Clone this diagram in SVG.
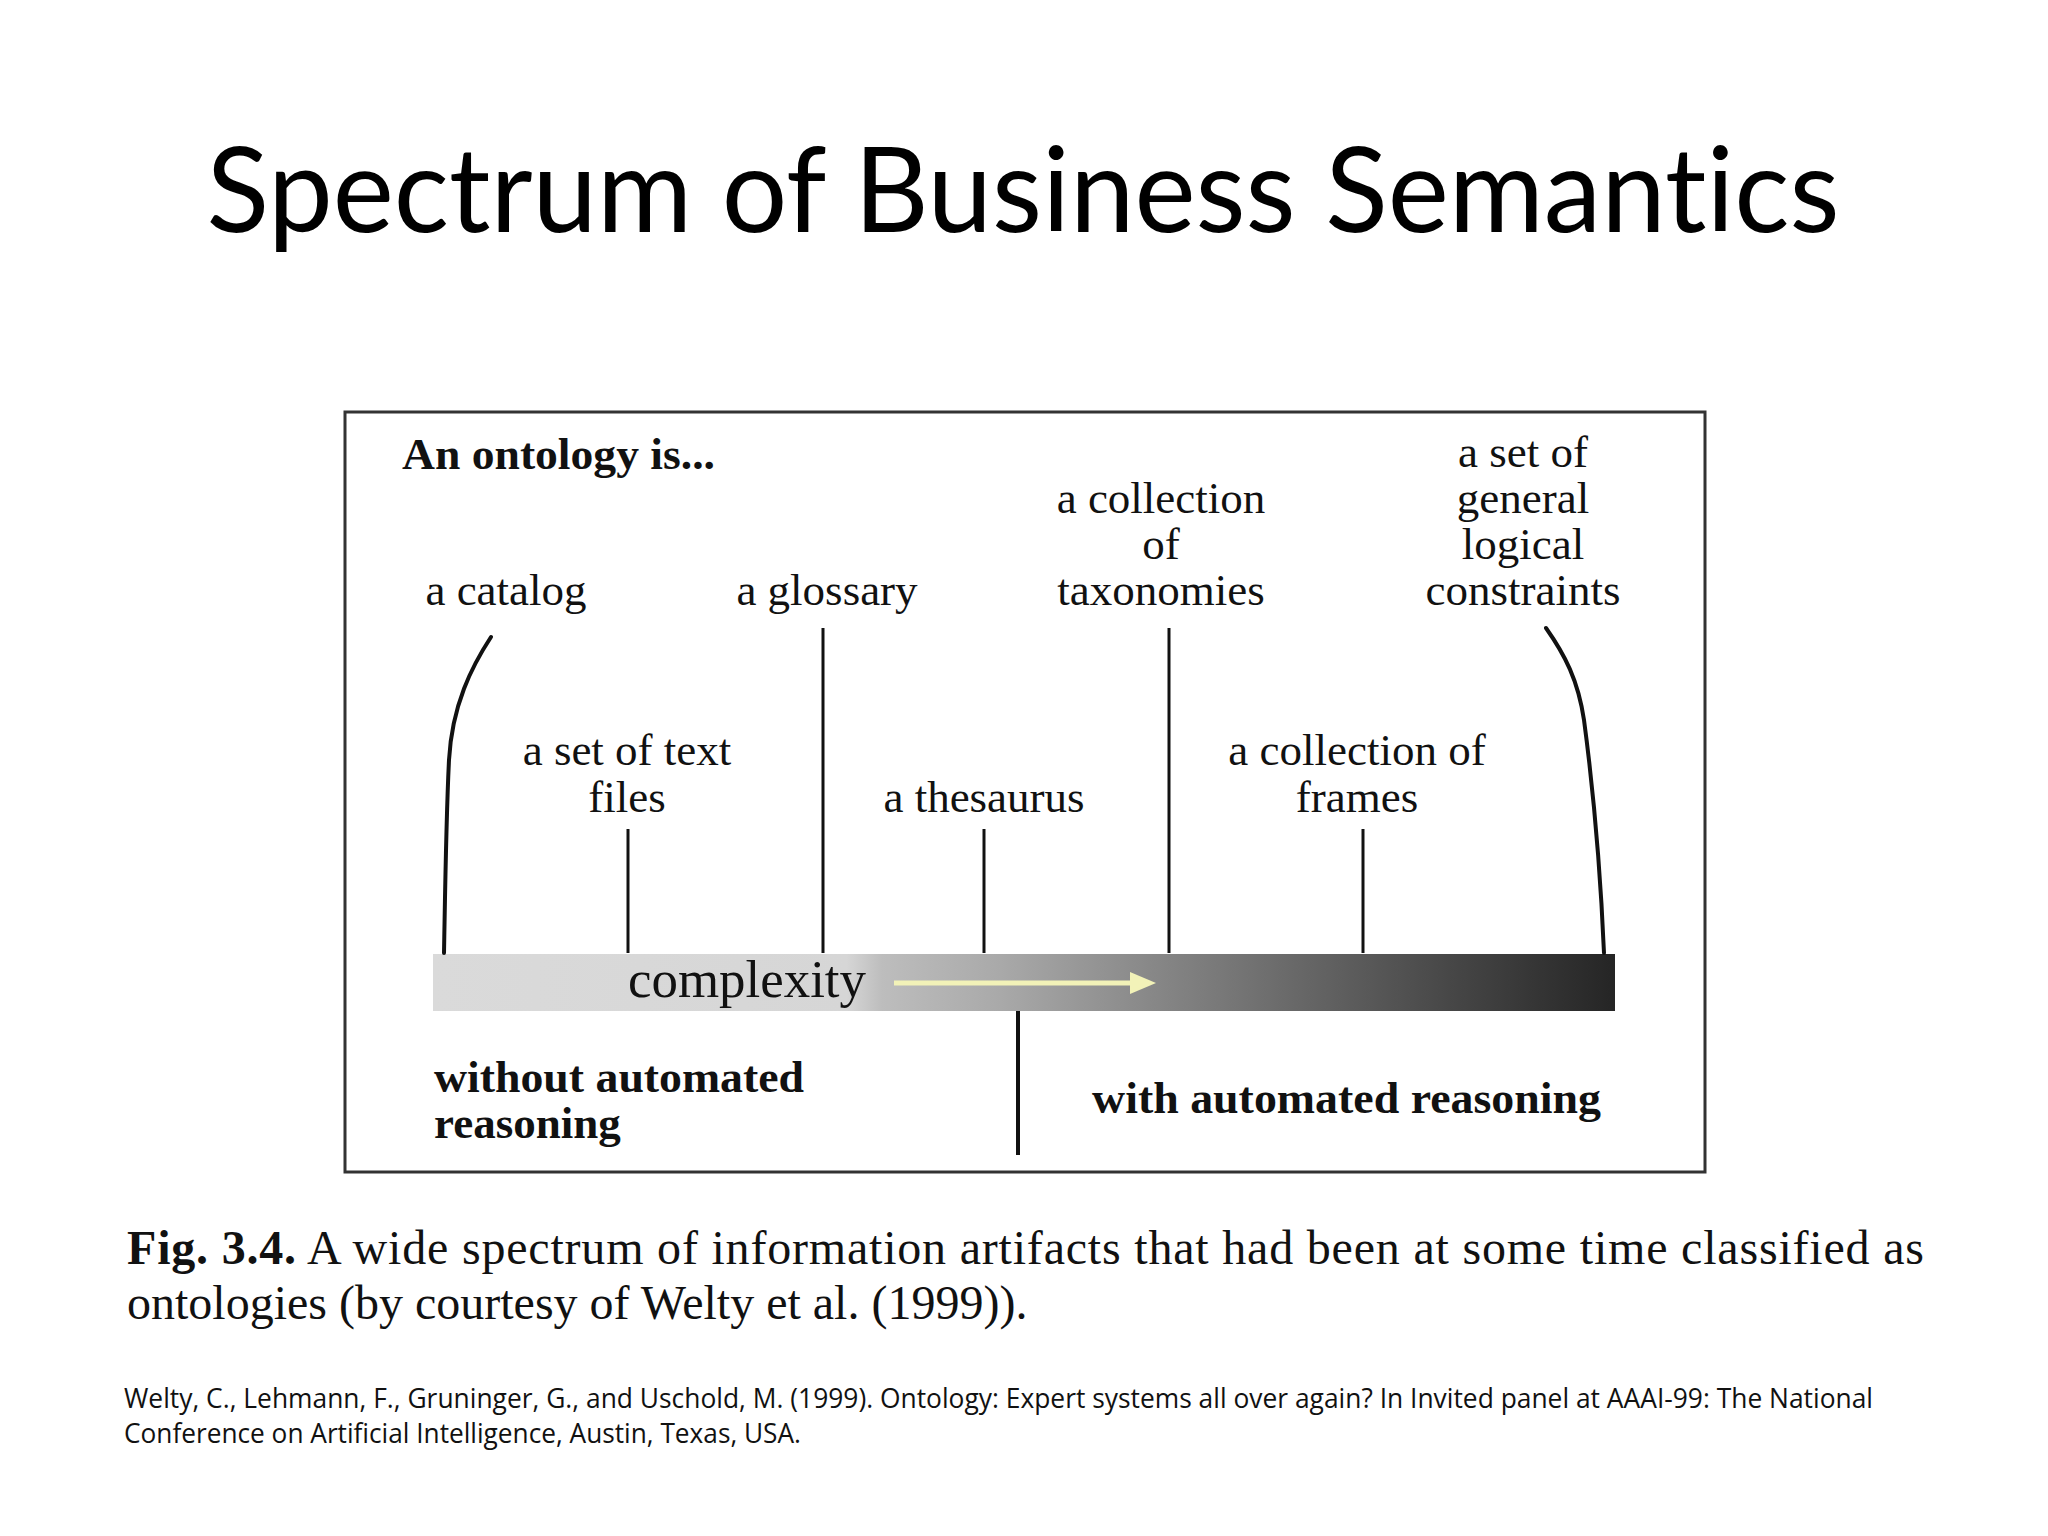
<svg xmlns="http://www.w3.org/2000/svg" width="2048" height="1536" viewBox="0 0 2048 1536">
<style>
.lbl{font-family:"Liberation Serif","Times New Roman",serif;font-size:45px;fill:#111;text-anchor:middle}
.bold{font-family:"Liberation Serif","Times New Roman",serif;font-size:45px;font-weight:bold;fill:#111}
.stem{stroke:#111;stroke-width:3;fill:none}
.curve{stroke:#111;stroke-width:4;fill:none;stroke-linecap:round}
.title{font-family:Lato,"Open Sans",sans-serif;font-size:118px;fill:#000;text-anchor:middle;font-variant-ligatures:none;font-feature-settings:"liga" 0}
</style>
<defs>
<linearGradient id="grad" x1="433" y1="0" x2="1615" y2="0" gradientUnits="userSpaceOnUse">
<stop offset="0" stop-color="#dadada"/>
<stop offset="0.35" stop-color="#d6d6d6"/>
<stop offset="0.38" stop-color="#bdbdbd"/>
<stop offset="0.48" stop-color="#a9a9a9"/>
<stop offset="0.61" stop-color="#878787"/>
<stop offset="0.73" stop-color="#686868"/>
<stop offset="0.86" stop-color="#474747"/>
<stop offset="1" stop-color="#252525"/>
</linearGradient>
</defs>
<rect width="2048" height="1536" fill="#ffffff"/>
<text class="title" x="1023" y="232" textLength="1633" lengthAdjust="spacingAndGlyphs">Spectrum of Business Semantics</text>

<g id="frame">
<rect x="345" y="412" width="1360" height="760" fill="#fff" stroke="#333" stroke-width="3"/>
<text class="bold" x="402" y="469" textLength="313" lengthAdjust="spacingAndGlyphs">An ontology is...</text>
</g>

<g id="bar">
<rect x="433" y="954" width="1182" height="57" fill="url(#grad)"/>
<text x="747" y="997" font-family="'Liberation Serif','Times New Roman',serif" font-size="52" fill="#111" text-anchor="middle" textLength="238" lengthAdjust="spacingAndGlyphs">complexity</text>
<line x1="894" y1="983" x2="1132" y2="983" stroke="#f2f2b8" stroke-width="5"/>
<polygon points="1130,972 1156,983 1130,994" fill="#f2f2b8"/>
</g>

<g id="connectors">
<path class="curve" d="M491,637 C472,666 452,705 449,760 C446,820 445,900 444,953"/>
<line class="stem" x1="628" y1="829" x2="628" y2="953"/>
<line class="stem" x1="823" y1="628" x2="823" y2="953"/>
<line class="stem" x1="984" y1="829" x2="984" y2="953"/>
<line class="stem" x1="1169" y1="628" x2="1169" y2="953"/>
<line class="stem" x1="1363" y1="829" x2="1363" y2="953" stroke-width="4"/>
<path class="curve" d="M1546,628 C1565,655 1578,680 1584,720 C1592,780 1600,860 1604,953"/>
<line x1="1018" y1="1011" x2="1018" y2="1155" stroke="#111" stroke-width="4"/>
</g>

<g id="catalog"><text class="lbl" x="506" y="605">a catalog</text></g>
<g id="glossary"><text class="lbl" x="827" y="605">a glossary</text></g>
<g id="taxonomies"><text class="lbl" x="1161" y="513">a collection</text><text class="lbl" x="1161" y="559">of</text><text class="lbl" x="1161" y="605">taxonomies</text></g>
<g id="constraints"><text class="lbl" x="1523" y="467">a set of</text><text class="lbl" x="1523" y="513">general</text><text class="lbl" x="1523" y="559">logical</text><text class="lbl" x="1523" y="605">constraints</text></g>
<g id="textfiles"><text class="lbl" x="627" y="765">a set of text</text><text class="lbl" x="627" y="812">files</text></g>
<g id="thesaurus"><text class="lbl" x="984" y="812">a thesaurus</text></g>
<g id="frames"><text class="lbl" x="1357" y="765">a collection of</text><text class="lbl" x="1357" y="812">frames</text></g>

<g id="without">
<text class="bold" x="434" y="1092" textLength="370" lengthAdjust="spacingAndGlyphs">without automated</text>
<text class="bold" x="434" y="1138">reasoning</text>
</g>
<g id="with">
<text class="bold" x="1092" y="1113" textLength="509" lengthAdjust="spacingAndGlyphs">with automated reasoning</text>
</g>

<g id="caption" font-family="'Liberation Serif','Times New Roman',serif" font-size="48" fill="#111">
<text x="127" y="1264" textLength="1797" lengthAdjust="spacing"><tspan font-weight="bold">Fig. 3.4.</tspan> A wide spectrum of information artifacts that had been at some time classified as</text>
<text x="127" y="1319">ontologies (by courtesy of Welty et al. (1999)).</text>
</g>

<g id="reference" font-family="'Open Sans',Lato,sans-serif" font-size="27" fill="#111">
<text x="124" y="1408" textLength="1749" lengthAdjust="spacingAndGlyphs">Welty, C., Lehmann, F., Gruninger, G., and Uschold, M. (1999). Ontology: Expert systems all over again? In Invited panel at AAAI-99: The National</text>
<text x="124" y="1443" textLength="677" lengthAdjust="spacingAndGlyphs">Conference on Artificial Intelligence, Austin, Texas, USA.</text>
</g>
</svg>
